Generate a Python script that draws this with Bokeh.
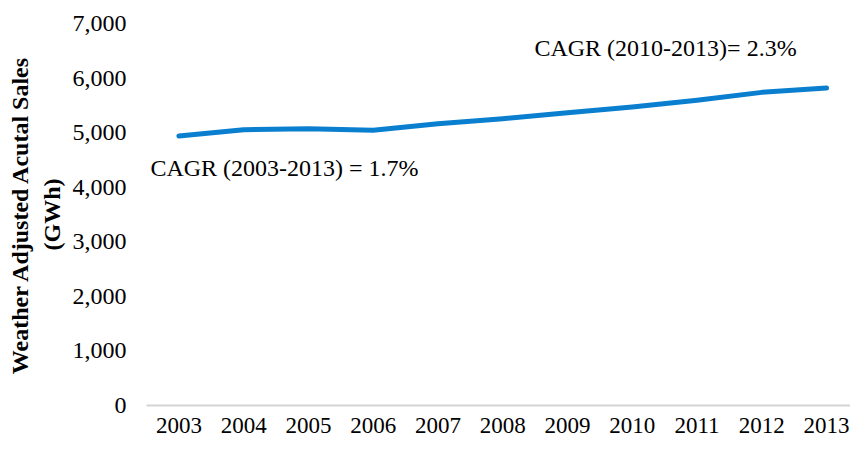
from bokeh.plotting import figure
from bokeh.models import Range1d, FixedTicker, NumeralTickFormatter, Label
from bokeh.embed import file_html
from bokeh.resources import INLINE

years = [2003, 2004, 2005, 2006, 2007, 2008, 2009, 2010, 2011, 2012, 2013]
sales = [4938, 5055, 5073, 5042, 5165, 5255, 5364, 5469, 5593, 5738, 5818]
y_ticks = [0, 1000, 2000, 3000, 4000, 5000, 6000, 7000]
note_all = "CAGR (2003-2013) = 1.7%"
note_recent = "CAGR (2010-2013)= 2.3%"
y_title = "Weather Adjusted Acutal Sales\n(GWh)"

FONT = "Liberation Serif"
FS = "24px"

p = figure(width=850, height=441, output_backend="svg", toolbar_location=None,
           x_range=Range1d(2002.5, 2013.37), y_range=Range1d(0, 7000),
           min_border_left=146, min_border_top=23, min_border_bottom=36, min_border_right=0)

p.line(years, sales, line_color="#0a7fcf", line_width=5, line_cap="round", line_join="round")

p.xgrid.visible = False
p.ygrid.visible = False
p.outline_line_color = None
p.background_fill_color = "white"
p.border_fill_color = "white"

xa = p.xaxis[0]
xa.ticker = FixedTicker(ticks=years)
xa.axis_line_color = "#d4d4d4"
xa.axis_line_width = 2
xa.major_tick_line_color = None
xa.minor_tick_line_color = None
xa.major_tick_out = 0
xa.major_tick_in = 0
xa.major_label_text_font = FONT
xa.major_label_text_font_size = "23px"
xa.major_label_text_line_height = 0.8
xa.major_label_text_color = "black"
xa.major_label_standoff = 12

ya = p.yaxis[0]
ya.ticker = FixedTicker(ticks=y_ticks)
ya.formatter = NumeralTickFormatter(format="0,0")
ya.axis_line_color = None
ya.major_tick_line_color = None
ya.minor_tick_line_color = None
ya.major_tick_out = 0
ya.major_tick_in = 0
ya.major_label_text_font = FONT
ya.major_label_text_font_size = FS
ya.major_label_text_color = "black"
ya.major_label_standoff = 20
ya.axis_label = y_title
ya.axis_label_text_font = FONT
ya.axis_label_text_font_size = FS
ya.axis_label_text_font_style = "bold"
ya.axis_label_text_color = "black"
ya.axis_label_standoff = 5

p.add_layout(Label(x=2002.56, y=4361, text=note_all, text_font=FONT,
                   text_font_size=FS, text_baseline="middle", text_color="black"))
p.add_layout(Label(x=2008.49, y=6542, text=note_recent, text_font=FONT,
                   text_font_size=FS, text_baseline="middle", text_color="black"))

open("out.html", "w").write(file_html(p, INLINE))
